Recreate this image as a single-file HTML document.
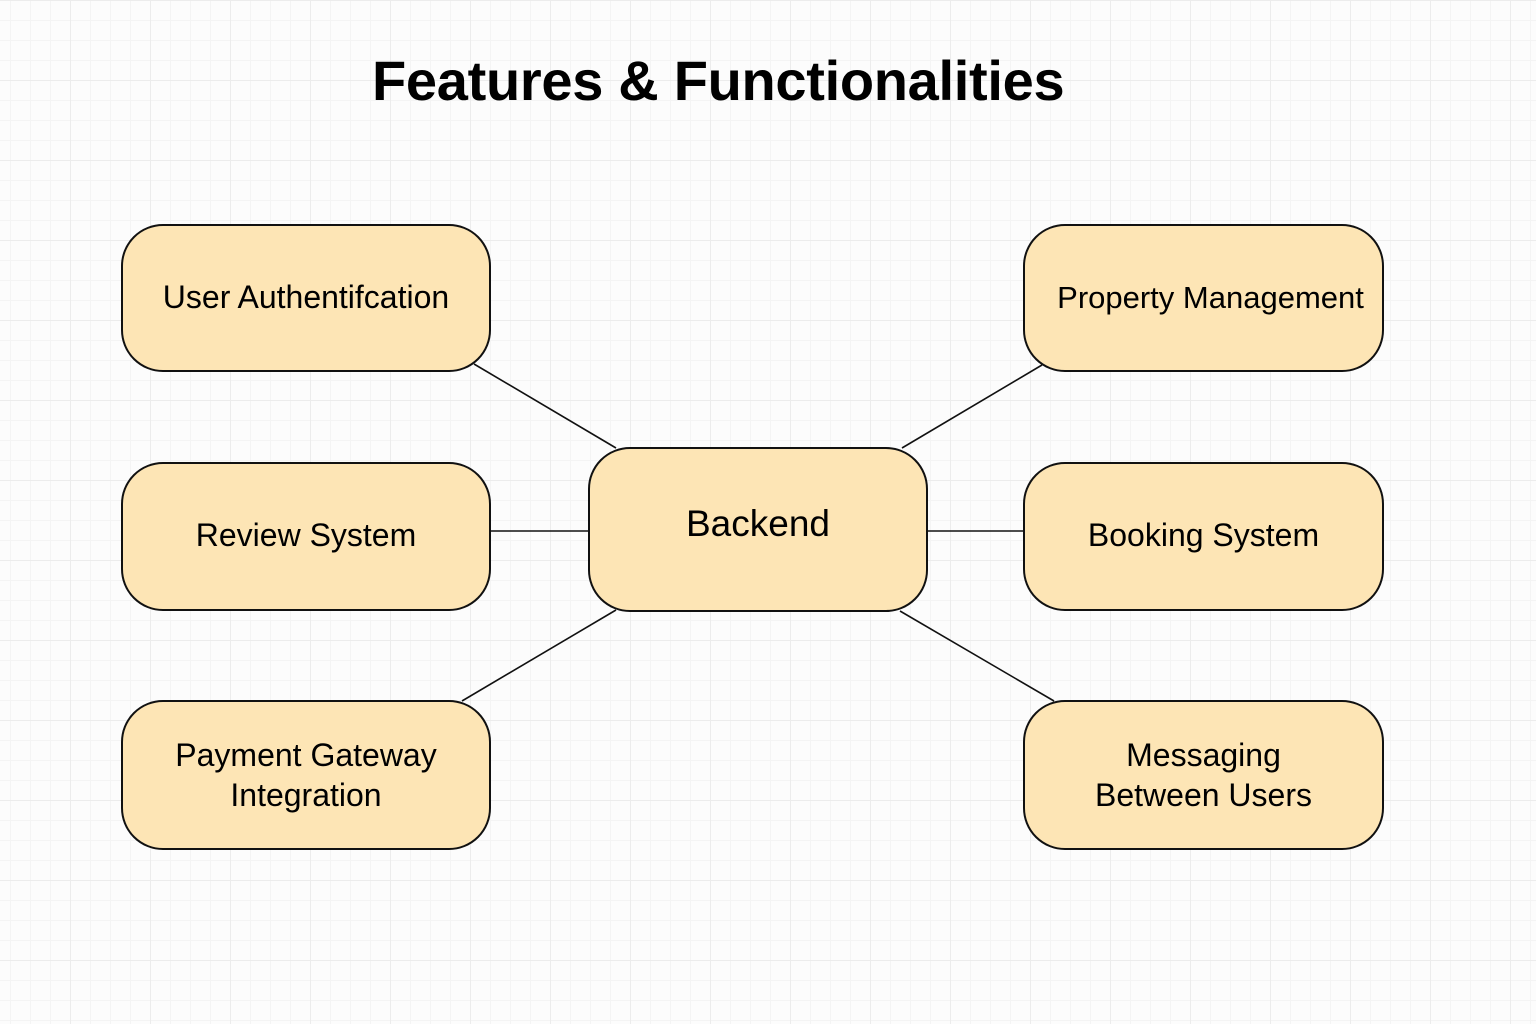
<!DOCTYPE html>
<html><head><style>
html,body{margin:0;padding:0}
body{width:1536px;height:1024px;position:relative;overflow:hidden;background-color:#fcfcfc;
background-image:
linear-gradient(to right,#ececec 1px,transparent 1px),
linear-gradient(to bottom,#ececec 1px,transparent 1px),
linear-gradient(to right,#f4f4f4 1px,transparent 1px),
linear-gradient(to bottom,#f4f4f4 1px,transparent 1px);
background-size:80px 80px,80px 80px,20px 20px,20px 20px;
background-position:70px 0,0 80px,10px 0,0 0;
font-family:"Liberation Sans",sans-serif;}
.t{position:absolute;left:372px;top:48px;font-size:56px;font-weight:bold;color:#000;letter-spacing:-0.3px}
.b{position:absolute;box-sizing:border-box;background:#fde5b5;border:2px solid #111;border-radius:42px;display:flex;align-items:center;justify-content:center;text-align:center;font-size:32px;line-height:40px;color:#000;white-space:nowrap}
svg{position:absolute;left:0;top:0}
</style></head><body>
<svg width="1536" height="1024"><g stroke="#111" stroke-width="1.6">
<line x1="474" y1="364" x2="616" y2="448"/>
<line x1="902" y1="448" x2="1042" y2="365"/>
<line x1="490" y1="531" x2="588" y2="531"/>
<line x1="927" y1="531" x2="1023" y2="531"/>
<line x1="462" y1="701" x2="616" y2="610"/>
<line x1="900" y1="611" x2="1054" y2="701"/>
</g></svg>
<div class="t">Features &amp; Functionalities</div>
<div class="b" style="left:121px;top:224px;width:370px;height:148px;padding-bottom:2px">User Authentifcation</div>
<div class="b" style="left:1023px;top:224px;width:361px;height:148px;padding-left:14px;font-size:31px">Property Management</div>
<div class="b" style="left:121px;top:462px;width:370px;height:149px;padding-bottom:4px">Review System</div>
<div class="b" style="left:588px;top:447px;width:340px;height:165px;font-size:37px;padding-bottom:12px">Backend</div>
<div class="b" style="left:1023px;top:462px;width:361px;height:149px;padding-bottom:4px">Booking System</div>
<div class="b" style="left:121px;top:700px;width:370px;height:150px">Payment Gateway<br>Integration</div>
<div class="b" style="left:1023px;top:700px;width:361px;height:150px">Messaging<br>Between Users</div>
</body></html>
